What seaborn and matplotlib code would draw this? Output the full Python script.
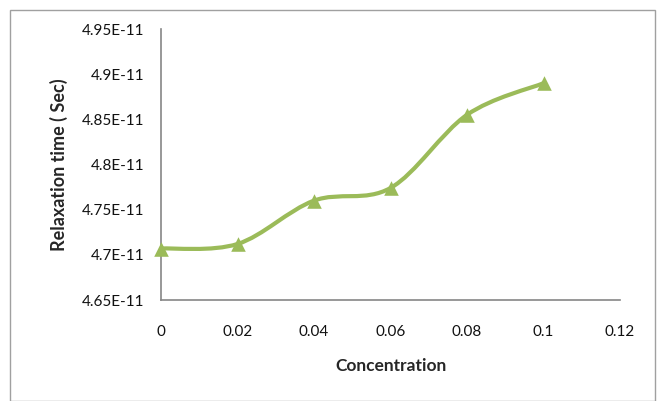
import matplotlib
matplotlib.use('Agg')
from matplotlib import pyplot as plt
from matplotlib.path import Path
from matplotlib.patches import PathPatch, Rectangle
import numpy as np
import pandas as pd
import seaborn as sns

# Data
concentration = [0.0, 0.02, 0.04, 0.06, 0.08, 0.1]
relaxation_time = [4.707e-11, 4.712e-11, 4.760e-11, 4.774e-11, 4.855e-11, 4.890e-11]
x_ticks = [0, 0.02, 0.04, 0.06, 0.08, 0.1, 0.12]
x_tick_labels = ['0', '0.02', '0.04', '0.06', '0.08', '0.1', '0.12']
y_ticks = [4.65e-11, 4.70e-11, 4.75e-11, 4.80e-11, 4.85e-11, 4.90e-11, 4.95e-11]
y_tick_labels = ['4.65E-11', '4.7E-11', '4.75E-11', '4.8E-11', '4.85E-11', '4.9E-11', '4.95E-11']

GREEN = '#9BBB59'
AXIS_GRAY = '#868686'

sns.set_style('white')
plt.rcParams['font.family'] = ['Lato', 'DejaVu Sans']

df = pd.DataFrame({'Concentration': concentration, 'Relaxation': relaxation_time})

fig = plt.figure(figsize=(6.62, 4.01), dpi=100)
ax = fig.add_axes([161 / 662, 1 - 300 / 401, (620 - 161) / 662, (300 - 29) / 401])

# Excel-style smoothed line: cubic bezier segments through the data points
pts = np.column_stack([concentration, relaxation_time])
verts = [tuple(pts[0])]
codes = [Path.MOVETO]
n = len(pts)
for i in range(n - 1):
    p_prev = pts[i - 1] if i > 0 else pts[i]
    p_next2 = pts[i + 2] if i + 2 < n else pts[i + 1]
    c1 = pts[i] + (pts[i + 1] - p_prev) / 6
    c2 = pts[i + 1] - (p_next2 - pts[i]) / 6
    verts += [tuple(c1), tuple(c2), tuple(pts[i + 1])]
    codes += [Path.CURVE4] * 3
ax.add_patch(PathPatch(Path(verts, codes), facecolor='none', edgecolor=GREEN,
                       lw=3, capstyle='round', joinstyle='round', zorder=2))

sns.scatterplot(data=df, x='Concentration', y='Relaxation', marker='^', s=110,
                color=GREEN, edgecolor=GREEN, linewidth=0, ax=ax, zorder=3, clip_on=False)

ax.set_xlim(0, 0.12)
ax.set_ylim(4.65e-11, 4.95e-11)
ax.set_xticks(x_ticks)
ax.set_xticklabels(x_tick_labels)
ax.set_yticks(y_ticks)
ax.set_yticklabels(y_tick_labels)
ax.tick_params(axis='both', length=0, labelsize=11, colors='#111111')
ax.tick_params(axis='x', pad=18)
ax.tick_params(axis='y', pad=12)

for side in ['top', 'right']:
    ax.spines[side].set_visible(False)
for side in ['left', 'bottom']:
    ax.spines[side].set_color(AXIS_GRAY)
    ax.spines[side].set_linewidth(1.2)

ax.set_xlabel('Concentration', fontsize=12.5, fontweight='bold', labelpad=14)
ax.set_ylabel('Relaxation time ( Sec)', fontsize=13, fontweight='bold', labelpad=10)

# chart area border
fig.patches.append(Rectangle((10 / 662, 0), (655 - 10) / 662, 1 - 10 / 401,
                             transform=fig.transFigure, fill=False,
                             edgecolor='#a0a0a0', lw=1))

fig.savefig('out.png', dpi=100)
